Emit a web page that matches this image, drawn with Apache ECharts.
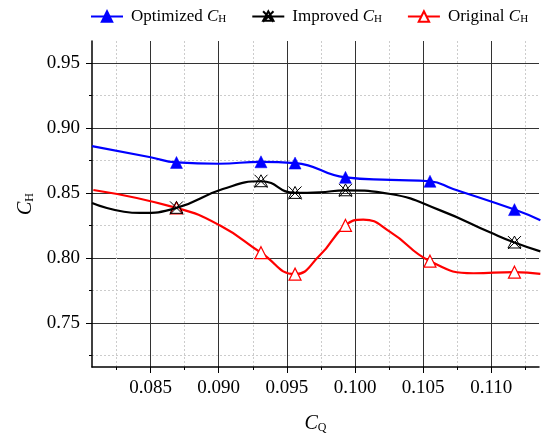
<!DOCTYPE html>
<html>
<head>
<meta charset="utf-8">
<script src="https://cdn.jsdelivr.net/npm/echarts@6/dist/echarts.min.js"></script>
<style>
html,body{margin:0;padding:0;background:#fff;}
#chart{width:552px;height:439px;}
</style>
</head>
<body>
<div id="chart"></div>
<script>
// Marker points
var optimizedX = [0.0869, 0.0931, 0.0956, 0.0993, 0.1055, 0.1117];
var optimizedY = [0.8735, 0.8740, 0.8730, 0.8620, 0.8590, 0.8372];
var improvedX  = [0.0869, 0.0931, 0.0956, 0.0993, 0.1117];
var improvedY  = [0.8385, 0.8590, 0.8500, 0.8520, 0.8118];
var originalX  = [0.0869, 0.0931, 0.0956, 0.0993, 0.1055, 0.1117];
var originalY  = [0.8385, 0.8040, 0.7875, 0.8250, 0.7975, 0.7890];

// Extra points along the drawn curves (no markers)
var optimizedCurveX = [0.0807, 0.0850, 0.0900, 0.1026, 0.1072, 0.1136];
var optimizedCurveY = [0.8860, 0.8775, 0.8725, 0.8600, 0.8531, 0.8290];
var improvedCurveX  = [0.0807, 0.0842, 0.0903, 0.0974, 0.1026, 0.1063, 0.1099, 0.1136];
var improvedCurveY  = [0.8423, 0.8346, 0.8530, 0.8505, 0.8492, 0.8364, 0.8197, 0.8050];
var originalCurveX  = [0.0808, 0.0901, 0.0974, 0.1006, 0.1026, 0.1087, 0.1136];
var originalCurveY  = [0.8523, 0.8249, 0.8018, 0.8295, 0.8198, 0.7882, 0.7877];

var xTicks = [0.085, 0.090, 0.095, 0.100, 0.105, 0.110];
var yTicks = [0.75, 0.80, 0.85, 0.90, 0.95];
var seriesNames = ['Optimized', 'Improved', 'Original'];

function merge(mx, my, cx, cy) {
  var pts = [];
  for (var i = 0; i < mx.length; i++) pts.push({value: [mx[i], my[i]]});
  for (var j = 0; j < cx.length; j++) pts.push({value: [cx[j], cy[j]], symbol: 'none'});
  pts.sort(function (a, b) { return a.value[0] - b.value[0]; });
  return pts;
}

var serif = '"Liberation Serif", "Times New Roman", serif';
var subRich = {
  i: {fontFamily: serif, fontStyle: 'italic', fontSize: 20, color: '#000'},
  s: {fontFamily: serif, fontSize: 12, color: '#000', verticalAlign: 'bottom'}
};
var legRich = {
  t: {fontFamily: serif, fontSize: 17, color: '#000'},
  i: {fontFamily: serif, fontStyle: 'italic', fontSize: 17, color: '#000'},
  s: {fontFamily: serif, fontSize: 11, color: '#000', verticalAlign: 'bottom'}
};

var improvedSymbol = 'path://M6 0 L12 11 L0 11 Z M0 0 L12 12 M12 0 L0 12';

var chart = echarts.init(document.getElementById('chart'), null, {renderer: 'canvas'});
chart.setOption({
  animation: false,
  backgroundColor: '#fff',
  grid: {left: 92, right: 13, top: 41, bottom: 72, containLabel: false},
  legend: {
    left: 90, top: 8, padding: 0, itemWidth: 32, itemHeight: 13, itemGap: 25,
    data: seriesNames,
    formatter: function (n) { return '{t|' + n + ' }{i|C}{s|H}'; },
    textStyle: {rich: legRich, padding: [0, 0, 0, 3]}
  },
  xAxis: {
    type: 'value', min: 0.0807, max: 0.1135,
    minInterval: 0.005, maxInterval: 0.005,
    name: '{i|C}{s|Q}', nameLocation: 'middle', nameGap: 47,
    nameTextStyle: {rich: subRich},
    axisLine: {show: true, onZero: false, lineStyle: {color: '#000', width: 1.5}},
    axisTick: {show: true, inside: false, length: 6, lineStyle: {color: '#000'}, customValues: xTicks},
    minorTick: {show: true, splitNumber: 2, length: 3, lineStyle: {color: '#000'}},
    axisLabel: {color: '#000', fontFamily: serif, fontSize: 19, margin: 12, customValues: xTicks,
      formatter: function (v) { return v.toFixed(3); }},
    splitLine: {show: true, lineStyle: {color: '#333', width: 1}},
    minorSplitLine: {show: true, lineStyle: {color: '#ccc', type: [2, 2], width: 1}}
  },
  yAxis: {
    type: 'value', min: 0.716, max: 0.967,
    minInterval: 0.05, maxInterval: 0.05,
    name: '{i|C}{s|H}', nameLocation: 'middle', nameGap: 50,
    nameTextStyle: {rich: subRich},
    axisLine: {show: true, onZero: false, lineStyle: {color: '#000', width: 1.5}},
    axisTick: {show: true, inside: false, length: 6, lineStyle: {color: '#000'}, customValues: yTicks},
    minorTick: {show: true, splitNumber: 2, length: 3, lineStyle: {color: '#000'}},
    axisLabel: {color: '#000', fontFamily: serif, fontSize: 19, margin: 12, customValues: yTicks,
      formatter: function (v) { return v.toFixed(2); }},
    splitLine: {show: true, lineStyle: {color: '#333', width: 1}},
    minorSplitLine: {show: true, lineStyle: {color: '#ccc', type: [2, 2], width: 1}}
  },
  series: [
    {
      name: 'Optimized', type: 'line', smooth: 0.5, z: 4,
      data: merge(optimizedX, optimizedY, optimizedCurveX, optimizedCurveY),
      symbol: 'triangle', symbolSize: 12, showAllSymbol: true,
      lineStyle: {color: '#0000ff', width: 2.2},
      itemStyle: {color: '#0000ff', borderColor: '#0000ff', borderWidth: 0.5}
    },
    {
      name: 'Improved', type: 'line', smooth: 0.5, z: 3,
      data: merge(improvedX, improvedY, improvedCurveX, improvedCurveY),
      symbol: improvedSymbol, symbolSize: 13, showAllSymbol: true,
      lineStyle: {color: '#000', width: 2.2},
      itemStyle: {color: 'rgba(0,0,0,0)', borderColor: '#000', borderWidth: 1}
    },
    {
      name: 'Original', type: 'line', smooth: 0.5, z: 2,
      data: merge(originalX, originalY, originalCurveX, originalCurveY),
      symbol: 'triangle', symbolSize: 12, showAllSymbol: true,
      lineStyle: {color: '#ff0000', width: 2.2},
      itemStyle: {color: '#fff', borderColor: '#ff0000', borderWidth: 1.2}
    }
  ]
});
</script>
</body>
</html>
